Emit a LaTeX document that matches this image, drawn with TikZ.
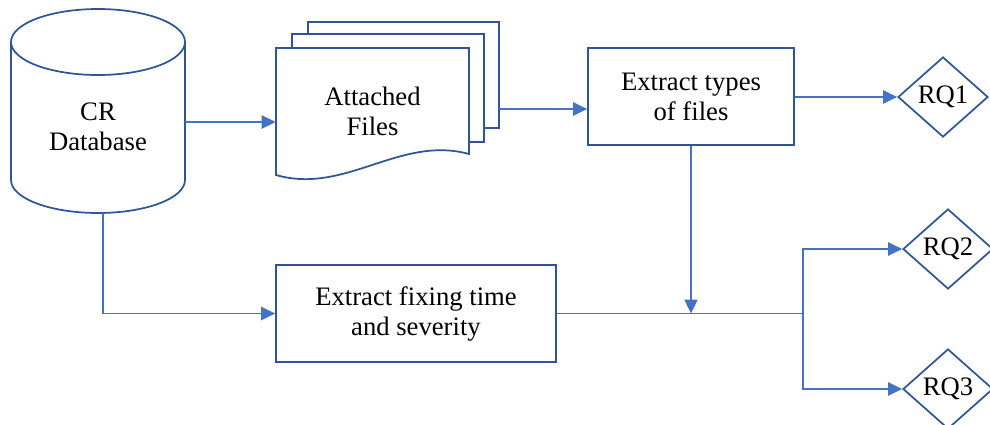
\documentclass[tikz,border=0pt]{standalone}
\usepackage{fontspec}
\setmainfont{Liberation Serif}
\usetikzlibrary{shapes.geometric,arrows.meta}
\definecolor{shapeblue}{HTML}{2F5597}
\definecolor{linkblue}{HTML}{4472C4}
\begin{document}
\begin{tikzpicture}[x=0.75pt,y=-0.75pt,
  shapeline/.style={draw=shapeblue,line width=1.3pt,line join=miter},
  txt/.style={font=\fontsize{20}{22.5}\selectfont,align=center,text=black},
  boxnode/.style={shapeline,txt,rectangle,inner sep=0pt},
  rqnode/.style={shapeline,txt,diamond,inner sep=0pt,minimum width=67.5pt,minimum height=60pt},
  link/.style={draw=linkblue,line width=0.9pt},
  arr/.style={link,-{Triangle[length=10.5pt,width=10pt]}}]
\useasboundingbox (0,0) rectangle (990,425);
% cylinder
\draw[shapeline,fill=white] (11,42) -- (11,180) arc[start angle=180,end angle=360,x radius=65.25pt,y radius=24.75pt] -- (185,42);
\draw[shapeline] (98,42) ellipse [x radius=65.25pt,y radius=24.75pt];
\node[txt] (db) at (98,127) {CR\\Database};
\coordinate (dbS) at (103,213);
\coordinate (dbE) at (185,122);
% multi-document
\draw[shapeline] (308,34) -- (308,22) -- (499,22) -- (499,128) -- (484,128);
\draw[shapeline] (292,48) -- (292,34) -- (484,34) -- (484,142) -- (469,142);
\draw[shapeline,fill=white] (276,175) -- (276,48) -- (469,48) -- (469,154) .. controls (400,135) and (345,195) .. (276,175) -- cycle;
\node[txt,minimum width=144.75pt,minimum height=95.25pt,inner sep=0pt] (att) at (372.5,111.5) {Attached\\Files};
\coordinate (attback) at (499,109);
% boxes
\node[boxnode,minimum width=154.5pt,minimum height=72.75pt] (box1) at (691,96.5) {Extract types\\of files};
\node[boxnode,minimum width=210pt,minimum height=72.75pt] (box2) at (416,313.5) {Extract fixing time\\and severity};
% diamonds
\node[rqnode] (rq1) at (943,97) {RQ1};
\node[rqnode] (rq2) at (948,249) {RQ2};
\node[rqnode] (rq3) at (948,389) {RQ3};
% connectors
\draw[arr] (dbE) -- (att.west |- dbE);
\draw[arr] (attback) -- (box1.west |- attback);
\draw[arr] (box1.east |- rq1.west) -- (rq1.west);
\coordinate (split) at (803,313.5);
\draw[arr] (box1.south) -- (box1.south |- split);
\draw[arr] (dbS) |- (box2.west);
\draw[link] (box2.east) -- (split);
\draw[arr] (split) |- (rq2.west);
\draw[arr] (split) |- (rq3.west);
\end{tikzpicture}
\end{document}
